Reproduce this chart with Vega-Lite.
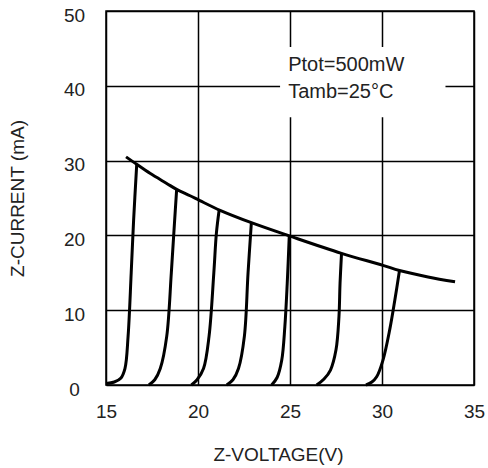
{
  "$schema": "https://vega.github.io/schema/vega-lite/v6.json",
  "width": 368,
  "height": 374,
  "autosize": "none",
  "padding": {"left": 106, "top": 11, "right": 14, "bottom": 83},
  "background": "white",
  "config": {
    "view": {"stroke": "black", "strokeWidth": 1.5},
    "font": "Liberation Sans"
  },
  "datasets": {
    "box": [{"x1": 24.46, "x2": 33.45, "y1": 35.8, "y2": 45.2}],
    "notes": [
      {"x": 24.9, "y": 42.8, "t": "Ptot=500mW"},
      {"x": 24.9, "y": 39.2, "t": "Tamb=25°C"}
    ],
    "curves": [
      {"c": "P", "v": 16.09, "i": 30.5},
      {"c": "P", "v": 16.67, "i": 29.5},
      {"c": "P", "v": 17.39, "i": 28.3},
      {"c": "P", "v": 18.3, "i": 26.95},
      {"c": "P", "v": 18.84, "i": 26.15},
      {"c": "P", "v": 19.57, "i": 25.3},
      {"c": "P", "v": 20.1, "i": 24.65},
      {"c": "P", "v": 21.2, "i": 23.35},
      {"c": "P", "v": 22.9, "i": 21.7},
      {"c": "P", "v": 25.0, "i": 19.9},
      {"c": "P", "v": 27.8, "i": 17.6},
      {"c": "P", "v": 30.05, "i": 16.0},
      {"c": "P", "v": 30.95, "i": 15.3},
      {"c": "P", "v": 32.5, "i": 14.45},
      {"c": "P", "v": 33.97, "i": 13.8},

      {"c": "z1", "v": 15.0, "i": 0.2},
      {"c": "z1", "v": 15.45, "i": 0.4},
      {"c": "z1", "v": 15.8, "i": 0.9},
      {"c": "z1", "v": 16.03, "i": 2.2},
      {"c": "z1", "v": 16.2, "i": 6.5},
      {"c": "z1", "v": 16.37, "i": 15.0},
      {"c": "z1", "v": 16.5, "i": 22.0},
      {"c": "z1", "v": 16.67, "i": 29.5},

      {"c": "z2", "v": 17.33, "i": 0.0},
      {"c": "z2", "v": 17.65, "i": 0.7},
      {"c": "z2", "v": 17.95, "i": 2.2},
      {"c": "z2", "v": 18.3, "i": 6.5},
      {"c": "z2", "v": 18.55, "i": 15.0},
      {"c": "z2", "v": 18.72, "i": 21.6},
      {"c": "z2", "v": 18.84, "i": 26.15},

      {"c": "z3", "v": 19.64, "i": 0.0},
      {"c": "z3", "v": 19.95, "i": 0.7},
      {"c": "z3", "v": 20.3, "i": 2.2},
      {"c": "z3", "v": 20.6, "i": 6.5},
      {"c": "z3", "v": 20.86, "i": 15.0},
      {"c": "z3", "v": 21.0, "i": 20.3},
      {"c": "z3", "v": 21.15, "i": 23.4},

      {"c": "z4", "v": 21.56, "i": 0.0},
      {"c": "z4", "v": 21.9, "i": 0.7},
      {"c": "z4", "v": 22.2, "i": 2.2},
      {"c": "z4", "v": 22.52, "i": 6.5},
      {"c": "z4", "v": 22.72, "i": 15.0},
      {"c": "z4", "v": 22.9, "i": 21.7},

      {"c": "z5", "v": 24.0, "i": 0.0},
      {"c": "z5", "v": 24.3, "i": 1.0},
      {"c": "z5", "v": 24.55, "i": 3.3},
      {"c": "z5", "v": 24.72, "i": 7.8},
      {"c": "z5", "v": 24.85, "i": 13.6},
      {"c": "z5", "v": 24.96, "i": 19.95},

      {"c": "z6", "v": 26.45, "i": 0.0},
      {"c": "z6", "v": 26.85, "i": 0.8},
      {"c": "z6", "v": 27.2, "i": 2.0},
      {"c": "z6", "v": 27.5, "i": 4.7},
      {"c": "z6", "v": 27.66, "i": 9.1},
      {"c": "z6", "v": 27.72, "i": 13.6},
      {"c": "z6", "v": 27.8, "i": 17.6},

      {"c": "z7", "v": 29.13, "i": 0.0},
      {"c": "z7", "v": 29.45, "i": 0.4},
      {"c": "z7", "v": 29.71, "i": 1.1},
      {"c": "z7", "v": 30.05, "i": 3.3},
      {"c": "z7", "v": 30.42, "i": 7.4},
      {"c": "z7", "v": 30.7, "i": 11.4},
      {"c": "z7", "v": 30.95, "i": 15.3}
    ]
  },
  "layer": [
    {
      "data": {"name": "box"},
      "mark": {"type": "rect", "color": "white"},
      "encoding": {
        "x": {
          "field": "x1", "type": "quantitative",
          "scale": {"domain": [15, 35], "nice": false, "zero": false},
          "axis": {
            "title": "Z-VOLTAGE(V)",
            "values": [15, 20, 25, 30, 35],
            "grid": true, "gridColor": "black", "gridWidth": 1.5, "gridOpacity": 1,
            "domain": false, "ticks": false, "tickSize": 0,
            "labelFontSize": 19, "labelColor": "#222", "labelPadding": 17,
            "labelFlush": false,
            "titleFontSize": 19, "titleFontWeight": "normal", "titleColor": "#222",
            "titleX": 172, "titleY": 69, "titleBaseline": "middle", "titleAlign": "center"
          }
        },
        "x2": {"field": "x2"},
        "y": {
          "field": "y1", "type": "quantitative",
          "scale": {"domain": [0, 50], "nice": false},
          "axis": {
            "title": "Z-CURRENT (mA)",
            "values": [0, 10, 20, 30, 40, 50],
            "grid": true, "gridColor": "black", "gridWidth": 1.5, "gridOpacity": 1,
            "domain": false, "ticks": false, "tickSize": 0,
            "labelFontSize": 19, "labelColor": "#222", "labelPadding": 32,
            "labelAlign": "center", "labelOffset": 4, "labelFlush": false,
            "titleFontSize": 19, "titleFontWeight": "normal", "titleColor": "#222",
            "titleX": -89, "titleY": 187, "titleBaseline": "middle", "titleAlign": "center"
          }
        },
        "y2": {"field": "y2"}
      }
    },
    {
      "data": {"name": "curves"},
      "mark": {"type": "line", "color": "black", "strokeWidth": 3, "interpolate": "catmull-rom"},
      "encoding": {
        "x": {"field": "v", "type": "quantitative"},
        "y": {"field": "i", "type": "quantitative"},
        "detail": {"field": "c", "type": "nominal"}
      }
    },
    {
      "data": {"name": "notes"},
      "mark": {"type": "text", "align": "left", "baseline": "middle", "fontSize": 20, "color": "#222"},
      "encoding": {
        "x": {"field": "x", "type": "quantitative"},
        "y": {"field": "y", "type": "quantitative"},
        "text": {"field": "t"}
      }
    }
  ]
}
